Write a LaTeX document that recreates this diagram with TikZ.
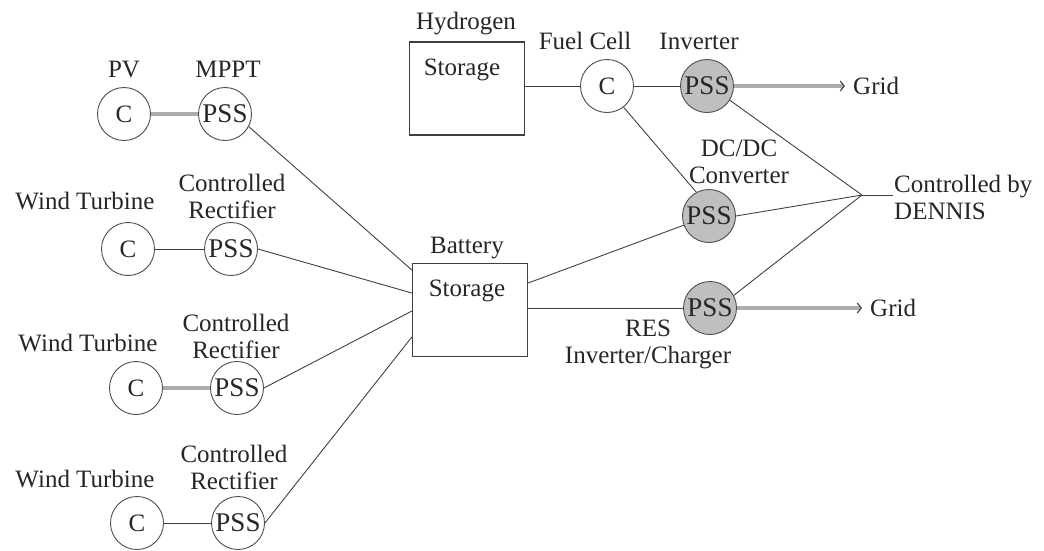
\documentclass[tikz,border=0pt]{standalone}
\usepackage{fontspec}
\setmainfont{LiberationSerif}[Extension=.ttf, UprightFont=*-Regular, BoldFont=*-Bold]
\usetikzlibrary{arrows.meta}
\begin{document}
\begin{tikzpicture}[x=1pt,y=-1pt,
  every node/.style={font=\rmfamily\fontsize{25}{27}\selectfont, text=black!85},
  lbl/.style={align=center, inner sep=0pt},
  circ/.style={circle, draw=black!70, line width=0.9pt, minimum size=53pt, inner sep=0pt},
  pss/.style={circ, fill=gray!50},
  ptxt/.style={font=\rmfamily\fontsize{27}{29}\selectfont},
  box/.style={draw=black!75, line width=1.3pt, minimum width=115pt, minimum height=93pt, inner sep=0pt},
  link/.style={draw=black!75, line width=0.9pt},
  glink/.style={draw=gray!65, line width=4pt},
  garrow/.style={glink, -{Straight Barb[length=4pt,width=10pt,line width=1.2pt,color=black!70]}}
]
\useasboundingbox (0,0) rectangle (1044,550);

% sources
\node[circ] (pvc) at (124,114) {C};
\node[circ, ptxt] (pvp) at (225,114) {PSS};
\node[lbl] (pvl) at (124,69) {PV};
\node[lbl] (mpptl) at (228,69) {MPPT};

\node[circ] (w1c) at (128,249) {C};
\node[circ, ptxt] (w1p) at (231,249) {PSS};
\node[lbl] (w1l) at (85,201) {Wind Turbine};
\node[lbl] (w1r) at (232,196) {Controlled\\Rectifier};

\node[circ] (w2c) at (136,388) {C};
\node[circ, ptxt] (w2p) at (237,388) {PSS};
\node[lbl] (w2l) at (88,343) {Wind Turbine};
\node[lbl] (w2r) at (236,336) {Controlled\\Rectifier};

\node[circ] (w3c) at (137,523) {C};
\node[circ, ptxt] (w3p) at (238,523) {PSS};
\node[lbl] (w3l) at (85,479) {Wind Turbine};
\node[lbl] (w3r) at (234,467) {Controlled\\Rectifier};

% storages
\node[box] (h2) at (467,88.5) {};
\node[lbl] (h2s) at (462,70) {Storage};
\node[lbl] (h2l) at (466,24) {Hydrogen};

\node[box] (batt) at (470,310) {};
\node[lbl] (batts) at (467,291) {Storage};
\node[lbl] (battl) at (467,248) {Battery};

% fuel cell branch
\node[circ] (fc) at (607,86) {C};
\node[pss, ptxt] (inv) at (707,86) {PSS};
\node[lbl] (fcl) at (585,41) {Fuel Cell};
\node[lbl] (invl) at (699,41) {Inverter};
\node[lbl, anchor=west] (grid1) at (853,86) {Grid};
\coordinate (g1) at (845,86);

\node[pss, ptxt] (dc) at (709,216) {PSS};
\node[lbl] (dcl) at (739,162) {DC/DC\\Converter};

\node[pss, ptxt] (res) at (710,308) {PSS};
\node[lbl] (resl) at (648,344) {RES\\Inverter/Charger};
\node[lbl, anchor=west] (grid2) at (870,308) {Grid};
\coordinate (g2) at (862,308);

\coordinate (j) at (862,195);
\coordinate (jt) at (893,195);
\node[lbl, anchor=west, align=left] (den) at (894,197) {Controlled by\\DENNIS};

% connectors
\draw[glink] (pvc) -- (pvp);
\draw[link] (w1c) -- (w1p);
\draw[glink] (w2c) -- (w2p);
\draw[link] (w3c) -- (w3p);

\draw[link] (pvp.-28) -- ([yshift=40pt]batt.west);
\draw[link] (w1p.east) -- ([yshift=17pt]batt.west);
\draw[link] (w2p.east) -- ([yshift=-1pt]batt.west);
\draw[link] (w3p.east) -- ([yshift=-27pt]batt.west);

\draw[link] (h2.east |- fc) -- (fc);
\draw[link] (fc) -- (inv);
\draw[garrow] (inv) -- (g1);
\draw[link] (fc.-52) -- (dc.118);

\draw[link] ([yshift=27pt]batt.east) -- (dc.200);
\draw[link] ([yshift=2pt]batt.east) -- (res.west);
\draw[garrow] (res) -- (g2);

\draw[link] (inv.-32) -- (j);
\draw[link] (dc.east) -- (j);
\draw[link] (res.28) -- (j);
\draw[link] (j) -- (jt);
\end{tikzpicture}
\end{document}
